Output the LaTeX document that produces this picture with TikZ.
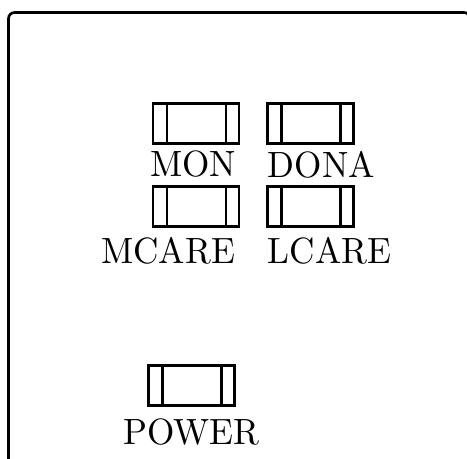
\documentclass[tikz,border=0pt]{standalone}
\usepackage{fontspec}
\usepackage{tikz}
\usetikzlibrary{
  calc,
  positioning
}
\newfontfamily\lblfont{lmroman10-regular}[Extension=.otf]
\tikzset{
  swbox/.style={draw, line width=1.4pt, minimum width=1.72cm, minimum height=0.8cm, inner sep=0pt, outer sep=0pt},
  lbl/.style={inner sep=0pt, font=\lblfont\fontsize{20}{24}\selectfont}
}

\begin{document}
\begin{tikzpicture}
			\clip (0,0) rectangle (9.34,-9.18);
			\draw[line width=1.5pt, rounded corners=0.12cm] (0.17,-0.25) rectangle (9.4,-9.6);

			\node[swbox] (mon) at (3.92,-2.47) {};
			\node[swbox] (dona) at (6.21,-2.47) {};
			\node[swbox] (mcare) at (3.92,-4.13) {};
			\node[swbox] (lcare) at (6.21,-4.13) {};
			\node[swbox] (power) at (3.83,-7.71) {};

			\foreach \n in {mon,dona,mcare,lcare,power} {
				\draw[line width=1.4pt] ([xshift=0.28cm]\n.north west) -- ([xshift=0.28cm]\n.south west);
				\draw[line width=1.4pt] ([xshift=-0.26cm]\n.north east) -- ([xshift=-0.26cm]\n.south east);
			}

			\node[lbl, below left=0.14cm and 0.05cm of mon.south east] (monlbl) {\scalebox{1}[1.04]{MON}};
			\node[lbl, below right=0.14cm and 0cm of dona.south west] (donalbl) {\scalebox{1}[1.04]{DONA}};
			\node[lbl, below left=0.21cm and 0.07cm of mcare.south east] (mcarelbl) {\scalebox{1}[1.04]{MCARE}};
			\node[lbl, below right=0.21cm and 0cm of lcare.south west] (lcarelbl) {\scalebox{1}[1.04]{LCARE}};
			\node[lbl, below=0.25cm of power.south] (powerlbl) {\scalebox{1}[1.04]{POWER}};
		\end{tikzpicture}
\end{document}
